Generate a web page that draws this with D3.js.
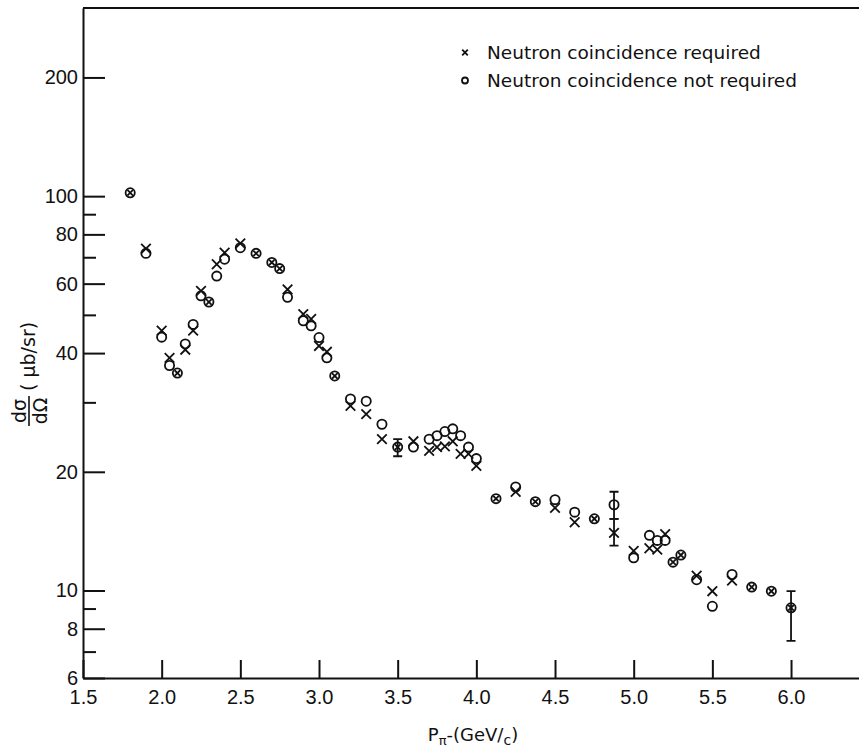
<!DOCTYPE html>
<html>
<head>
<meta charset="utf-8">
<script src="https://cdn.jsdelivr.net/npm/d3@7"></script>
<style>
	body { margin: 0; background: #fff; }
	svg { display: block; font-family: "DejaVu Sans", sans-serif; }
	.axis path, .axis line { stroke: #111; stroke-width: 2; }
	.axis text { font-size: 20px; fill: #111; }
	.mark { fill: none; stroke: #111; stroke-width: 1.8; }
</style>
</head>
<body>
<div id="chart-area"></div>
<script>

// SVG Size
var width = 859,
	height = 747;

// Beam momentum (GeV/c)
var momentum = [1.8, 1.9, 2.0, 2.05, 2.1, 2.15, 2.2, 2.25, 2.3, 2.35,
	2.4, 2.5, 2.6, 2.7, 2.75, 2.8, 2.9, 2.95, 3.0, 3.05,
	3.1, 3.2, 3.3, 3.4, 3.5, 3.6, 3.7, 3.75, 3.8, 3.85,
	3.9, 3.95, 4.0, 4.125, 4.25, 4.375, 4.5, 4.625, 4.75, 4.875,
	5.0, 5.1, 5.15, 5.2, 5.25, 5.3, 5.4, 5.5, 5.625, 5.75,
	5.875, 6.0];

// dsigma/dOmega (microbarn/sr), neutron coincidence required (x)
var sigmaRequired = [102, 73.6, 45.6, 38.9, 35.6, 40.8, 45.6, 57.5, 53.9, 67.2,
	71.9, 75.9, 71.6, 67.9, 65.5, 58.0, 50.2, 48.8, 41.7, 40.3,
	35.0, 29.4, 28.0, 24.2, 23.1, 23.9, 22.6, 23.1, 23.2, 23.9,
	22.2, 22.2, 20.7, 17.1, 17.8, 16.8, 16.2, 14.9, 15.2, 14.0,
	12.6, 12.8, 12.7, 13.9, 11.8, 12.3, 10.9, 9.96, 10.6, 10.2,
	9.96, 9.04];

// dsigma/dOmega (microbarn/sr), neutron coincidence not required (o)
var sigmaNotRequired = [102, 71.6, 43.9, 37.2, 35.6, 42.2, 47.3, 55.9, 53.9, 62.7,
	69.2, 74.0, 71.6, 67.9, 65.5, 55.4, 48.3, 46.9, 43.8, 38.9,
	35.0, 30.6, 30.2, 26.4, 23.1, 23.1, 24.2, 24.7, 25.3, 25.7,
	24.7, 23.1, 21.6, 17.1, 18.3, 16.8, 17.0, 15.8, 15.2, 16.5,
	12.1, 13.8, 13.4, 13.4, 11.8, 12.3, 10.65, 9.12, 10.98, 10.2,
	9.96, 9.04];

// error bars
var errMomentum = [3.5, 4.875, 4.875, 6.0];
var errLow = [21.9, 15.2, 13.0, 7.45];
var errHigh = [24.2, 17.8, 15.2, 9.96];

// tick values
var xTicks = [1.5, 2.0, 2.5, 3.0, 3.5, 4.0, 4.5, 5.0, 5.5, 6.0];
var yMajorTicks = [6, 8, 10, 20, 40, 60, 80, 100, 200];
var yMinorTicks = [7, 9, 30, 50, 70, 90];

var legendLabels = ["Neutron coincidence required", "Neutron coincidence not required"];

var svg = d3.select("#chart-area")
		.append("svg")
		.attr("width", width)
		.attr("height", height);

var xScale = d3.scaleLinear()
		.domain([1.5, 6.432])
		.range([83, 859]);

var yScale = d3.scaleLog()
		.domain([6, 300])
		.range([678, 8]);

function cross(cx, cy, s){
	return "M" + (cx - s) + "," + (cy - s) + "L" + (cx + s) + "," + (cy + s) +
		"M" + (cx - s) + "," + (cy + s) + "L" + (cx + s) + "," + (cy - s);
}

// axes
var xAxis = d3.axisBottom(xScale)
		.tickValues(xTicks)
		.tickFormat(d3.format(".1f"))
		.tickSize(-18)
		.tickSizeOuter(0)
		.tickPadding(12);

var yAxis = d3.axisLeft(yScale)
		.tickValues(yMajorTicks)
		.tickFormat(d3.format("d"))
		.tickSize(-22)
		.tickSizeOuter(0)
		.tickPadding(5);

var yMinor = d3.axisLeft(yScale)
		.tickValues(yMinorTicks)
		.tickFormat("")
		.tickSize(-13)
		.tickSizeOuter(0);

svg.append("g")
		.attr("class", "axis x-axis")
		.attr("transform", "translate(0," + yScale(6) + ")")
		.call(xAxis);

svg.append("g")
		.attr("class", "axis y-axis")
		.attr("transform", "translate(" + xScale(1.5) + ",0)")
		.call(yAxis);

svg.append("g")
		.attr("class", "axis y-minor")
		.attr("transform", "translate(" + xScale(1.5) + ",0)")
		.call(yMinor)
		.select(".domain").remove();

// top frame line
svg.append("line")
		.attr("x1", xScale(1.5)).attr("x2", width)
		.attr("y1", yScale(300)).attr("y2", yScale(300))
		.attr("stroke", "#111").attr("stroke-width", 2);

// error bars
var errs = errMomentum.map(function(d, i){ return {x: d, lo: errLow[i], hi: errHigh[i]}; });
var eb = svg.append("g").attr("class", "mark");
errs.forEach(function(e){
	var cx = xScale(e.x);
	eb.append("path")
		.attr("d", "M" + cx + "," + yScale(e.lo) + "V" + yScale(e.hi) +
			"M" + (cx - 4.5) + "," + yScale(e.lo) + "H" + (cx + 4.5) +
			"M" + (cx - 4.5) + "," + yScale(e.hi) + "H" + (cx + 4.5));
});

// data points
var points = momentum.map(function(d, i){
	return {p: d, req: sigmaRequired[i], notReq: sigmaNotRequired[i]};
});

svg.append("g").selectAll("circle")
		.data(points)
		.enter()
		.append("circle")
		.attr("class", "mark")
		.attr("cx", function(d){ return xScale(d.p); })
		.attr("cy", function(d){ return yScale(d.notReq); })
		.attr("r", 4.6)
		.attr("fill", "#fff");

svg.append("g").selectAll("path")
		.data(points)
		.enter()
		.append("path")
		.attr("class", "mark")
		.attr("d", function(d){
			// smaller cross when it sits inside the circle
			var s = d.req === d.notReq ? 2.8 : 4.8;
			return cross(xScale(d.p), yScale(d.req), s);
		});

// legend
var legend = svg.append("g").attr("font-size", "18.5px").attr("fill", "#111");
legend.append("path").attr("class", "mark").attr("d", cross(465, 52.5, 2.8));
legend.append("circle").attr("class", "mark").attr("cx", 465).attr("cy", 80.5).attr("r", 3);
legend.append("text").attr("x", 487).attr("y", 58.5).text(legendLabels[0]);
legend.append("text").attr("x", 487).attr("y", 87).text(legendLabels[1]);

// x axis title
var xt = svg.append("text")
		.attr("x", 473).attr("y", 741)
		.attr("text-anchor", "middle")
		.attr("font-size", "18px")
		.attr("fill", "#111");
xt.append("tspan").text("P");
xt.append("tspan").attr("font-size", "13px").attr("dy", 4).text("\u03c0");
xt.append("tspan").attr("dy", -4).text("-(GeV/");
xt.append("tspan").attr("font-size", "14px").attr("dy", 4).text("c");
xt.append("tspan").attr("dy", -4).text(")");

// y axis title
var yt = svg.append("g")
		.attr("transform", "translate(29,411) rotate(-90)")
		.attr("fill", "#111")
		.attr("font-size", "19px");
yt.append("text").attr("x", 0).attr("y", -3).attr("text-anchor", "middle").text("d\u03c3");
yt.append("line").attr("x1", -15).attr("x2", 15).attr("y1", 0).attr("y2", 0)
		.attr("stroke", "#111").attr("stroke-width", 1.6);
yt.append("text").attr("x", 0).attr("y", 18).attr("text-anchor", "middle").text("d\u03a9");
yt.append("text").attr("x", 20).attr("y", 6).text("( \u03bcb/sr)");

</script>
</body>
</html>
